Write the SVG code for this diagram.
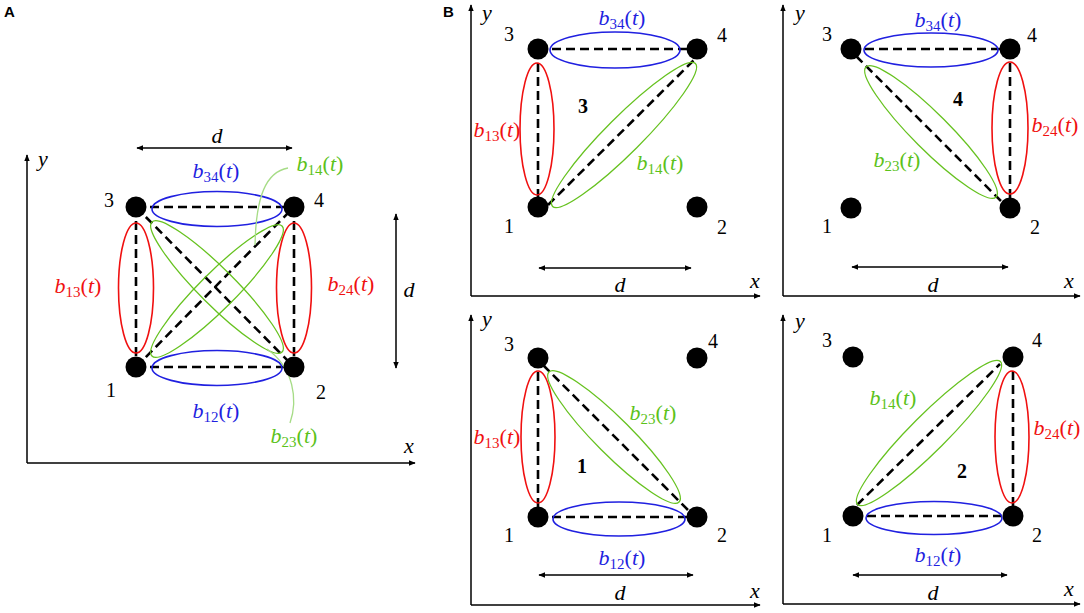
<svg xmlns="http://www.w3.org/2000/svg" width="1084" height="613" viewBox="0 0 1084 613">
<style>
text{font-family:"Liberation Serif","DejaVu Serif",serif;fill:#000}
.lbl{font-size:22px;text-anchor:middle}
.it{font-style:italic}
.sub{font-size:15px}
.num{font-size:20px;text-anchor:middle}
.bold{font-size:20px;font-weight:bold;text-anchor:middle}
.panel{font-family:"Liberation Sans",Arial,sans-serif;font-weight:bold;font-size:15px}
.blue{fill:#1f1fe0}
.red{fill:#f01010}
.green{fill:#5cc21a}
.node{fill:#000}
.dash{stroke:#000;stroke-width:2.6;stroke-dasharray:9 5;fill:none}
.eb{fill:none;stroke:#2020e0;stroke-width:1.6}
.er{fill:none;stroke:#f01010;stroke-width:1.6}
.eg{fill:none;stroke:#66c21f;stroke-width:1.3}
.lead{fill:none;stroke:#a6dc86;stroke-width:1.3}
.ax{stroke:#000;stroke-width:1.5;fill:none}
.dim{stroke:#000;stroke-width:1.5;fill:none;marker-start:url(#ah);marker-end:url(#ah)}
</style>
<defs>
<marker id="ah" viewBox="0 0 10 10" refX="9" refY="5" markerWidth="7" markerHeight="7" markerUnits="userSpaceOnUse" orient="auto-start-reverse">
<path d="M0,1 L10,5 L0,9 Z" fill="#000"/>
</marker>
</defs>

<text class="panel" x="4" y="17">A</text>
<text class="panel" x="443" y="17">B</text>

<!-- Panel A -->
<g id="panelA">
<g id="A-axes">
<path class="ax" d="M27,463 H415" marker-end="url(#ah)"/>
<path class="ax" d="M27,463 V155" marker-end="url(#ah)"/>
<text class="lbl it" x="409" y="453">x</text>
<text class="lbl it" x="43" y="166">y</text>
<path class="dim" d="M137,148 H292"/>
<text class="lbl it" x="217" y="143">d</text>
<path class="dim" d="M396,214 V368"/>
<text class="lbl it" x="409" y="297">d</text>
</g>
<g id="A-connectors">
<line class="dash" x1="136" y1="207" x2="294" y2="207"/>
<line class="dash" x1="136" y1="367" x2="294" y2="367"/>
<line class="dash" x1="136" y1="207" x2="136" y2="367"/>
<line class="dash" x1="294" y1="207" x2="294" y2="367"/>
<line class="dash" x1="136" y1="367" x2="294" y2="207"/>
<line class="dash" x1="136" y1="207" x2="294" y2="367"/>
<ellipse class="eb" cx="217" cy="209" rx="65" ry="17.5"/>
<ellipse class="eb" cx="217" cy="368" rx="65" ry="17.5"/>
<ellipse class="er" cx="136" cy="288" rx="17.5" ry="65"/>
<ellipse class="er" cx="294" cy="288" rx="17.5" ry="65"/>
<ellipse class="eg" cx="217" cy="291" rx="92" ry="18" transform="rotate(-45 217 291)"/>
<ellipse class="eg" cx="217" cy="287" rx="92" ry="18" transform="rotate(45 217 287)"/>
<path class="lead" d="M288,168 C266,172 256,196 255,245"/>
<path class="lead" d="M290,423 C298,400 294,368 267,349"/>
</g>
<g id="A-n1"><circle class="node" cx="136" cy="367" r="10.5"/><text class="num" x="111" y="397">1</text></g>
<g id="A-n2"><circle class="node" cx="294" cy="367" r="10.5"/><text class="num" x="321" y="399">2</text></g>
<g id="A-n3"><circle class="node" cx="136" cy="207" r="10.5"/><text class="num" x="109" y="207">3</text></g>
<g id="A-n4"><circle class="node" cx="294" cy="207" r="10.5"/><text class="num" x="319" y="207">4</text></g>
<g id="A-labels">
<text class="lbl blue" x="216" y="178"><tspan class="it">b</tspan><tspan class="sub" dy="4">34</tspan><tspan dy="-4">(</tspan><tspan class="it">t</tspan>)</text>
<text class="lbl blue" x="216" y="418"><tspan class="it">b</tspan><tspan class="sub" dy="4">12</tspan><tspan dy="-4">(</tspan><tspan class="it">t</tspan>)</text>
<text class="lbl red" x="78" y="293"><tspan class="it">b</tspan><tspan class="sub" dy="4">13</tspan><tspan dy="-4">(</tspan><tspan class="it">t</tspan>)</text>
<text class="lbl red" x="351" y="291"><tspan class="it">b</tspan><tspan class="sub" dy="4">24</tspan><tspan dy="-4">(</tspan><tspan class="it">t</tspan>)</text>
<text class="lbl green" x="320" y="171"><tspan class="it">b</tspan><tspan class="sub" dy="4">14</tspan><tspan dy="-4">(</tspan><tspan class="it">t</tspan>)</text>
<text class="lbl green" x="294" y="443"><tspan class="it">b</tspan><tspan class="sub" dy="4">23</tspan><tspan dy="-4">(</tspan><tspan class="it">t</tspan>)</text>
</g>
</g>

<!-- Panel B top-left (3) -->
<g id="panelB3">
<g id="B3-axes">
<path class="ax" d="M471,296 H760" marker-end="url(#ah)"/>
<path class="ax" d="M471,296 V5" marker-end="url(#ah)"/>
<text class="lbl it" x="755" y="288">x</text>
<text class="lbl it" x="487" y="20">y</text>
<path class="dim" d="M539,268 H691"/>
<text class="lbl it" x="620" y="292">d</text>
</g>
<g id="B3-connectors">
<line class="dash" x1="538" y1="49" x2="697" y2="49"/>
<line class="dash" x1="538" y1="49" x2="538" y2="207"/>
<line class="dash" x1="548" y1="205" x2="697" y2="57"/>
<ellipse class="eb" cx="615" cy="50" rx="65" ry="18"/>
<ellipse class="er" cx="537" cy="129" rx="17" ry="66"/>
<ellipse class="eg" cx="624" cy="135" rx="101" ry="18" transform="rotate(-45 624 135)"/>
</g>
<g id="B3-n1"><circle class="node" cx="538" cy="207" r="10.5"/><text class="num" x="509" y="233">1</text></g>
<g id="B3-n2"><circle class="node" cx="697" cy="207" r="10.5"/><text class="num" x="722" y="234">2</text></g>
<g id="B3-n3"><circle class="node" cx="538" cy="49" r="10.5"/><text class="num" x="509" y="41">3</text></g>
<g id="B3-n4"><circle class="node" cx="697" cy="49" r="10.5"/><text class="num" x="722" y="42">4</text></g>
<g id="B3-labels">
<text class="bold" x="583" y="113">3</text>
<text class="lbl blue" x="622" y="25"><tspan class="it">b</tspan><tspan class="sub" dy="4">34</tspan><tspan dy="-4">(</tspan><tspan class="it">t</tspan>)</text>
<text class="lbl red" x="497" y="137"><tspan class="it">b</tspan><tspan class="sub" dy="4">13</tspan><tspan dy="-4">(</tspan><tspan class="it">t</tspan>)</text>
<text class="lbl green" x="660" y="170"><tspan class="it">b</tspan><tspan class="sub" dy="4">14</tspan><tspan dy="-4">(</tspan><tspan class="it">t</tspan>)</text>
</g>
</g>

<!-- Panel B top-right (4) -->
<g id="panelB4">
<g id="B4-axes">
<path class="ax" d="M783,296 H1080" marker-end="url(#ah)"/>
<path class="ax" d="M783,296 V5" marker-end="url(#ah)"/>
<text class="lbl it" x="1069" y="288">x</text>
<text class="lbl it" x="800" y="20">y</text>
<path class="dim" d="M852,267 H1008"/>
<text class="lbl it" x="933" y="292">d</text>
</g>
<g id="B4-connectors">
<line class="dash" x1="851" y1="49" x2="1010" y2="49"/>
<line class="dash" x1="1010" y1="49" x2="1010" y2="208"/>
<line class="dash" x1="856" y1="56" x2="1002" y2="202"/>
<ellipse class="eb" cx="931" cy="50" rx="67" ry="17"/>
<ellipse class="er" cx="1010" cy="128" rx="18" ry="66"/>
<ellipse class="eg" cx="931" cy="132" rx="92" ry="18" transform="rotate(45 931 132)"/>
</g>
<g id="B4-n1"><circle class="node" cx="851" cy="208" r="10.5"/><text class="num" x="827" y="233">1</text></g>
<g id="B4-n2"><circle class="node" cx="1010" cy="208" r="10.5"/><text class="num" x="1035" y="234">2</text></g>
<g id="B4-n3"><circle class="node" cx="851" cy="49" r="10.5"/><text class="num" x="827" y="41">3</text></g>
<g id="B4-n4"><circle class="node" cx="1010" cy="49" r="10.5"/><text class="num" x="1032" y="42">4</text></g>
<g id="B4-labels">
<text class="bold" x="958" y="106">4</text>
<text class="lbl blue" x="938" y="27"><tspan class="it">b</tspan><tspan class="sub" dy="4">34</tspan><tspan dy="-4">(</tspan><tspan class="it">t</tspan>)</text>
<text class="lbl red" x="1055" y="132"><tspan class="it">b</tspan><tspan class="sub" dy="4">24</tspan><tspan dy="-4">(</tspan><tspan class="it">t</tspan>)</text>
<text class="lbl green" x="897" y="167"><tspan class="it">b</tspan><tspan class="sub" dy="4">23</tspan><tspan dy="-4">(</tspan><tspan class="it">t</tspan>)</text>
</g>
</g>

<!-- Panel B bottom-left (1) -->
<g id="panelB1">
<g id="B1-axes">
<path class="ax" d="M471,605 H760" marker-end="url(#ah)"/>
<path class="ax" d="M471,605 V315" marker-end="url(#ah)"/>
<text class="lbl it" x="755" y="598">x</text>
<text class="lbl it" x="487" y="326">y</text>
<path class="dim" d="M539,575 H693"/>
<text class="lbl it" x="620" y="600">d</text>
</g>
<g id="B1-connectors">
<line class="dash" x1="538" y1="517" x2="697" y2="517"/>
<line class="dash" x1="538" y1="358" x2="538" y2="517"/>
<line class="dash" x1="543" y1="365" x2="690" y2="512"/>
<ellipse class="eb" cx="619" cy="519" rx="66" ry="17"/>
<ellipse class="er" cx="538" cy="437" rx="17" ry="66"/>
<ellipse class="eg" cx="614" cy="437" rx="92" ry="18" transform="rotate(45 614 437)"/>
</g>
<g id="B1-n1"><circle class="node" cx="538" cy="517" r="10.5"/><text class="num" x="509" y="542">1</text></g>
<g id="B1-n2"><circle class="node" cx="697" cy="517" r="10.5"/><text class="num" x="722" y="542">2</text></g>
<g id="B1-n3"><circle class="node" cx="538" cy="358" r="10.5"/><text class="num" x="509" y="351">3</text></g>
<g id="B1-n4"><circle class="node" cx="697" cy="358" r="10.5"/><text class="num" x="713" y="348">4</text></g>
<g id="B1-labels">
<text class="bold" x="582" y="473">1</text>
<text class="lbl blue" x="622" y="565"><tspan class="it">b</tspan><tspan class="sub" dy="4">12</tspan><tspan dy="-4">(</tspan><tspan class="it">t</tspan>)</text>
<text class="lbl red" x="497" y="444"><tspan class="it">b</tspan><tspan class="sub" dy="4">13</tspan><tspan dy="-4">(</tspan><tspan class="it">t</tspan>)</text>
<text class="lbl green" x="653" y="420"><tspan class="it">b</tspan><tspan class="sub" dy="4">23</tspan><tspan dy="-4">(</tspan><tspan class="it">t</tspan>)</text>
</g>
</g>

<!-- Panel B bottom-right (2) -->
<g id="panelB2">
<g id="B2-axes">
<path class="ax" d="M783,604 H1080" marker-end="url(#ah)"/>
<path class="ax" d="M783,604 V315" marker-end="url(#ah)"/>
<text class="lbl it" x="1069" y="596">x</text>
<text class="lbl it" x="800" y="328">y</text>
<path class="dim" d="M853,575 H1007"/>
<text class="lbl it" x="933" y="600">d</text>
</g>
<g id="B2-connectors">
<line class="dash" x1="853" y1="516" x2="1013" y2="516"/>
<line class="dash" x1="1013" y1="357" x2="1013" y2="516"/>
<line class="dash" x1="857" y1="505" x2="1000" y2="364"/>
<ellipse class="eb" cx="934" cy="518" rx="68" ry="16.5"/>
<ellipse class="er" cx="1012" cy="437" rx="17" ry="66"/>
<ellipse class="eg" cx="929" cy="433" rx="101" ry="18" transform="rotate(-45 929 433)"/>
</g>
<g id="B2-n1"><circle class="node" cx="853" cy="516" r="10.5"/><text class="num" x="827" y="542">1</text></g>
<g id="B2-n2"><circle class="node" cx="1013" cy="516" r="10.5"/><text class="num" x="1037" y="542">2</text></g>
<g id="B2-n3"><circle class="node" cx="853" cy="357" r="10.5"/><text class="num" x="827" y="347">3</text></g>
<g id="B2-n4"><circle class="node" cx="1013" cy="357" r="10.5"/><text class="num" x="1037" y="347">4</text></g>
<g id="B2-labels">
<text class="bold" x="962" y="478">2</text>
<text class="lbl blue" x="938" y="562"><tspan class="it">b</tspan><tspan class="sub" dy="4">12</tspan><tspan dy="-4">(</tspan><tspan class="it">t</tspan>)</text>
<text class="lbl red" x="1057" y="435"><tspan class="it">b</tspan><tspan class="sub" dy="4">24</tspan><tspan dy="-4">(</tspan><tspan class="it">t</tspan>)</text>
<text class="lbl green" x="893" y="405"><tspan class="it">b</tspan><tspan class="sub" dy="4">14</tspan><tspan dy="-4">(</tspan><tspan class="it">t</tspan>)</text>
</g>
</g>
</svg>
